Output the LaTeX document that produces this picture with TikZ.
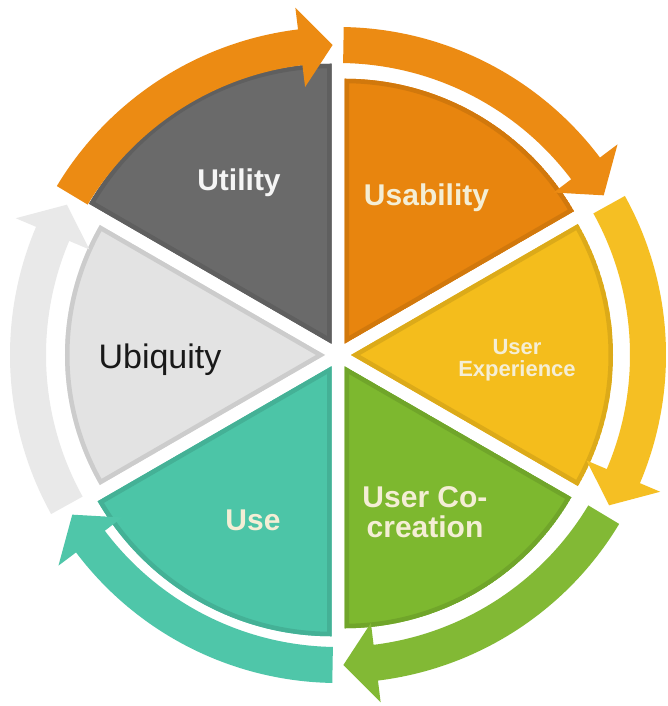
\documentclass[tikz,border=0pt]{standalone}
\usepackage{fontspec}
\setmainfont{Liberation Sans}
\usepackage{tikz}
\definecolor{utilgray}{HTML}{6A6A6A}
\definecolor{usaorange}{HTML}{E8850E}
\definecolor{uxyellow}{HTML}{F4BD1C}
\definecolor{ucgreen}{HTML}{7DB82F}
\definecolor{useteal}{HTML}{4CC5A7}
\definecolor{ubilight}{HTML}{E3E3E3}
\definecolor{arrorange}{HTML}{EC8B13}
\definecolor{arryellow}{HTML}{F5BF23}
\definecolor{arrgreen}{HTML}{82B935}
\definecolor{arrteal}{HTML}{4FC6A9}
\definecolor{arrlight}{HTML}{E9E9E9}
\definecolor{labelcream}{HTML}{F4EED5}

\begin{document}
\begin{tikzpicture}[x=1pt,y=1pt,
        lbl/.style={font=\bfseries\fontsize{30}{30}\selectfont, text=labelcream, align=center}]
            \useasboundingbox[fill=white] (-338,-351) rectangle (330,355);

            % exploded sectors with a darker rim
            \foreach \m/\r/\c in {120/280/utilgray,60/265/usaorange,0/262/uxyellow,-60/262/ucgreen,-120/270/useteal,180/260/ubilight} {
            \begin{scope}[shift={(\m:13)}]
            \clip (0,0) -- (\m-30:\r pt) arc[start angle=\m-30, end angle=\m+30, radius=\r pt] -- cycle;
            \fill[\c] (0,0) -- (\m-30:\r pt) arc[start angle=\m-30, end angle=\m+30, radius=\r pt] -- cycle;
            \draw[\c!90!black, line width=9pt] (0,0) -- (\m-30:\r pt) arc[start angle=\m-30, end angle=\m+30, radius=\r pt] -- cycle;
            \end{scope}}

            % ring of arrows, clockwise
            \foreach \s/\c in {149/arrorange,89/arrorange,29/arryellow,-31/arrgreen,-91/arrteal,-151/arrlight} {
            \fill[\c] (\s:292pt) arc[start angle=\s, end angle=\s-52, radius=292pt] -- (\s-52:270pt) -- (\s-58:310pt)
                -- (\s-52:350pt) -- (\s-52:328pt) arc[start angle=\s-52, end angle=\s, radius=328pt] -- cycle;}

            \node[lbl, text=white!96!black] (utility) at (-99,172.5) {Utility};
            \node[lbl] (usability) at (88.5,157.5) {Usability};
            \node[lbl, font=\bfseries\fontsize{22}{22}\selectfont] (ux) at (179,-5.5) {User\\Experience};
            \node[lbl] (cocreation) at (87,-157) {User Co-\\creation};
            \node[lbl] (use) at (-85,-165) {Use};
            \node[font=\fontsize{34}{34}\selectfont, text=black!90] (ubiquity) at (-178,-4.5) {Ubiquity};

        \end{tikzpicture}
\end{document}
